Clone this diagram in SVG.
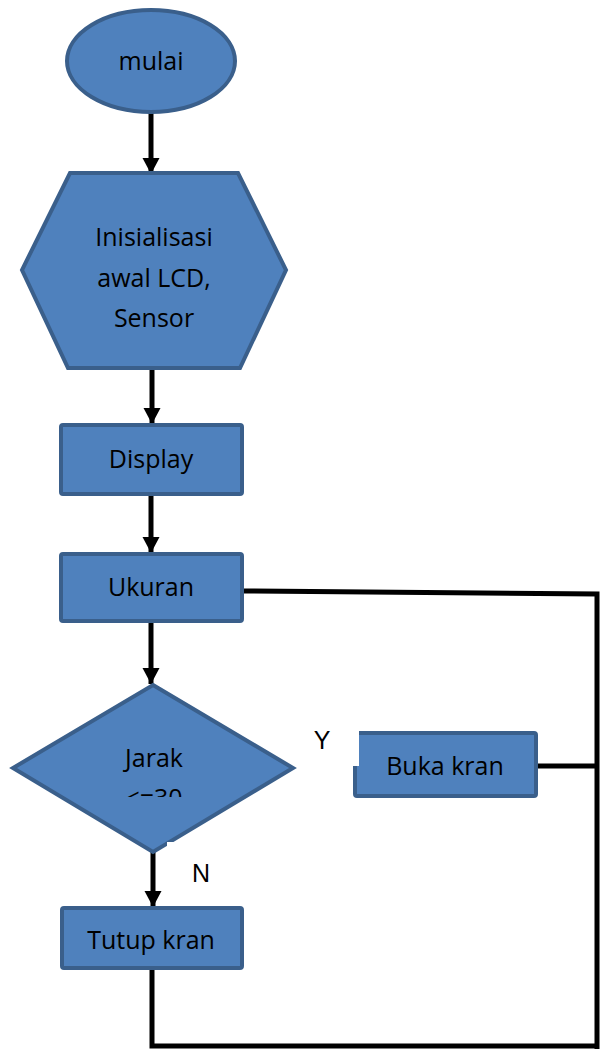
<svg xmlns="http://www.w3.org/2000/svg" width="600" height="1049" viewBox="0 0 600 1049">
<style>
.shape{fill:#4F81BD;stroke:#3A5F8B;stroke-width:4;stroke-linejoin:miter}
.t{font-family:"Open Sans","Liberation Sans",sans-serif;font-size:25px;fill:#000;text-anchor:middle;dominant-baseline:central}
.lbl{font-family:"Liberation Sans",Arial,sans-serif;font-size:25px;fill:#000;text-anchor:middle;dominant-baseline:central}
.c{fill:none;stroke:#000;stroke-width:5}
</style>
<defs>
<marker id="ah" markerUnits="userSpaceOnUse" markerWidth="18" markerHeight="18" refX="16" refY="8.5" orient="auto">
<path d="M0,0 L16,8.5 L0,17 z" fill="#000"/>
</marker>
<clipPath id="clipDia"><rect x="0" y="680" width="300" height="117"/></clipPath>
</defs>
<rect width="600" height="1049" fill="#fff"/>
<g id="connectors">
<line class="c" x1="151" y1="112" x2="151" y2="174" marker-end="url(#ah)"/>
<line class="c" x1="152" y1="368" x2="152" y2="424" marker-end="url(#ah)"/>
<line class="c" x1="151" y1="494" x2="151" y2="553" marker-end="url(#ah)"/>
<line class="c" x1="151" y1="621" x2="151" y2="684" marker-end="url(#ah)"/>
<line class="c" x1="153" y1="852" x2="153" y2="907" marker-end="url(#ah)"/>
<polyline class="c" points="242,591 597,594 597,1049"/>
<line class="c" x1="537" y1="766" x2="597" y2="766"/>
<polyline class="c" points="152,968 152,1046 597,1046"/>
</g>
<g id="mulai">
<ellipse class="shape" cx="151" cy="61" rx="84" ry="51"/>
<text class="t" x="151" y="60">mulai</text>
</g>
<g id="inisialisasi">
<polygon class="shape" points="70,173 238,173 286,270 240,368 68,368 22,270"/>
<text class="t" x="154" y="236">Inisialisasi</text>
<text class="t" x="154" y="277">awal LCD,</text>
<text class="t" x="154" y="317">Sensor</text>
</g>
<g id="display">
<rect class="shape" x="61" y="425" width="181" height="69" rx="2"/>
<text class="t" x="151" y="458">Display</text>
</g>
<g id="ukuran">
<rect class="shape" x="61" y="554" width="181" height="67" rx="2"/>
<text class="t" x="151" y="586">Ukuran</text>
</g>
<g id="jarak">
<polygon class="shape" points="153,685 293,768 153,852 13,768"/>
<rect x="167" y="842" width="12" height="8" fill="#fff"/>
<g clip-path="url(#clipDia)">
<text class="t" x="154" y="757">Jarak</text>
<text class="t" x="154" y="797">&lt;=30</text>
</g>
</g>
<g id="buka">
<rect class="shape" x="355" y="733" width="181" height="63" rx="2"/>
<rect x="350" y="728" width="9" height="38" fill="#fff"/>
<text class="t" x="445" y="765">Buka kran</text>
</g>
<g id="tutup">
<rect class="shape" x="62" y="908" width="180" height="60" rx="2"/>
<text class="t" x="151" y="939">Tutup kran</text>
</g>
<g id="labels">
<text class="lbl" x="322" y="740">Y</text>
<text class="lbl" x="201" y="873">N</text>
</g>
</svg>
